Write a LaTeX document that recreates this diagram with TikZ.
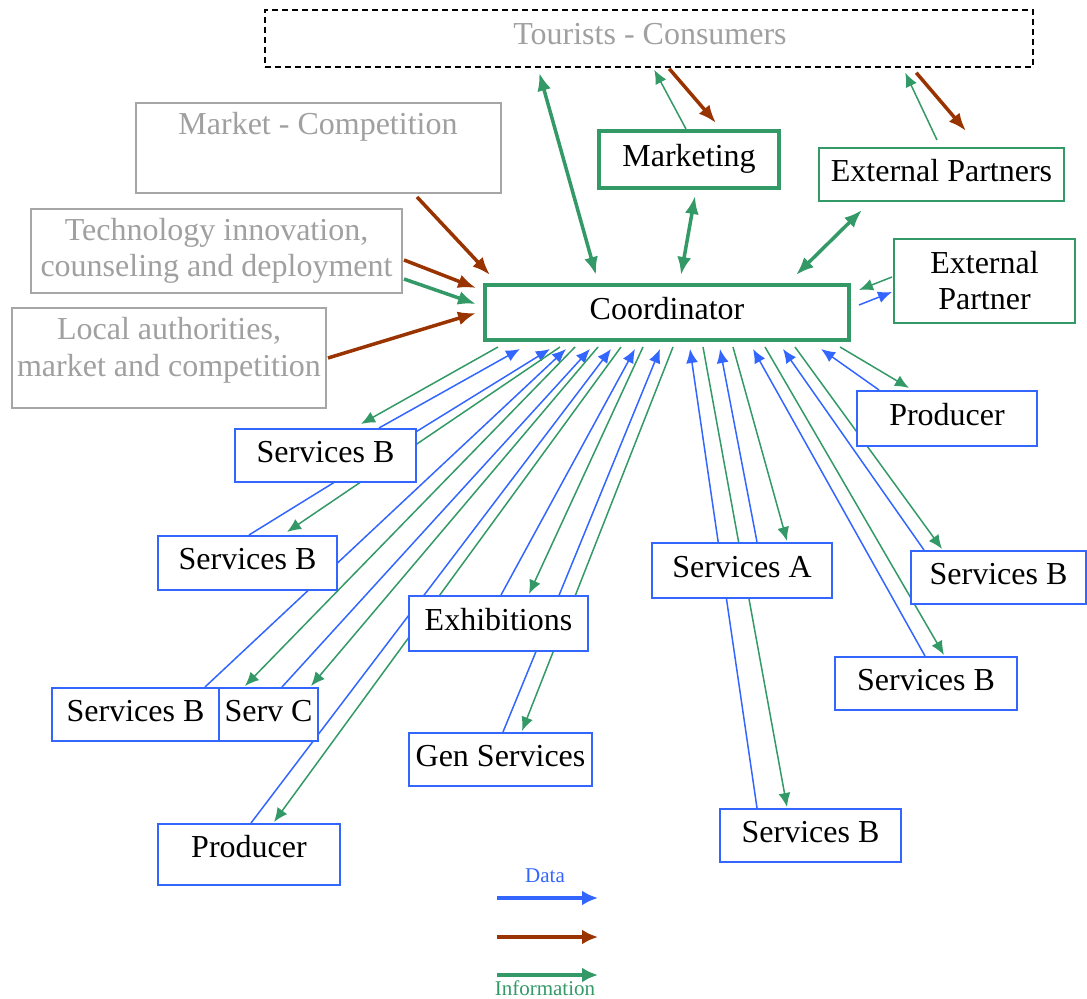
\documentclass[tikz,border=0pt]{standalone}
\usepackage{fontspec}
\setmainfont{Liberation Serif}
\usetikzlibrary{arrows.meta,calc}
\pgfdeclarelayer{bg}
\pgfsetlayers{bg,main}
\definecolor{cblue}{RGB}{51,102,255}
\definecolor{cgreen}{RGB}{51,153,102}
\definecolor{cbrown}{RGB}{153,51,0}
\definecolor{cgray}{RGB}{160,160,160}
\definecolor{cgrayline}{RGB}{166,166,166}
\begin{document}
\begin{tikzpicture}[x=0.5pt,y=-0.5pt,
  box/.style={draw, fill=white, inner sep=0pt, align=center, font=\fontsize{16}{18}\selectfont},
  bbox/.style={box, draw=cblue, line width=1pt, text depth=4pt},
  gbox/.style={box, draw=cgreen, line width=1pt},
  gthickbox/.style={box, draw=cgreen, line width=2pt, text depth=4pt},
  graybox/.style={box, draw=cgrayline, line width=1pt},
  graytext/.style={inner sep=0pt, text=cgray, align=center, font=\fontsize{16}{18.5}\selectfont},
  dataline/.style={draw=cblue, line width=0.75pt, -{Latex[length=7pt,width=6pt]}},
  infoline/.style={draw=cgreen, line width=0.75pt, -{Latex[length=7pt,width=6pt]}},
  infothick/.style={draw=cgreen, line width=1.75pt, {Latex[length=9pt,width=7pt]}-{Latex[length=9pt,width=7pt]}},
  infothickone/.style={draw=cgreen, line width=1.75pt, -{Latex[length=9pt,width=7pt]}},
  brownline/.style={draw=cbrown, line width=1.75pt, -{Latex[length=9pt,width=7pt]}},
  legendarrow/.style={line width=2pt, -{Latex[length=8pt,width=7.5pt]}}
]
\useasboundingbox (0,0) rectangle (1087,999);

% ---- top / outside boxes
\node[draw=black, dashed, dash pattern=on 3pt off 2pt, line width=0.75pt, minimum width=384pt, minimum height=28.5pt, inner sep=0pt] (tour) at (649,38.5) {};
\node[graytext, anchor=base] (tourt) at (650,45) {Tourists - Consumers};

\node[graybox, minimum width=182.5pt, minimum height=45pt] (mkt) at (318.5,148) {};
\node[graytext, anchor=base] (mktt) at (318,135) {Market - Competition};

\node[graybox, minimum width=185.5pt, minimum height=42pt, text=cgray] (tech) at (216.5,251) {Technology innovation,\\counseling and deployment};

\node[graybox, minimum width=157pt, minimum height=50pt] (loc) at (169,358) {};
\node[graytext] (loct) at (169,350) {Local authorities,\\market and competition};

% ---- green boxes
\node[gthickbox, minimum width=182pt, minimum height=27.5pt] (co) at (667,312.5) {Coordinator};
\node[gthickbox, minimum width=90pt, minimum height=28.5pt] (mk) at (689,159.5) {Marketing};
\node[gbox, minimum width=122.5pt, minimum height=26.5pt, text depth=4pt] (eps) at (941.5,174.5) {External Partners};
\node[gbox, minimum width=90.5pt, minimum height=42pt] (ep) at (984.5,281) {External\\Partner};

% ---- blue boxes
\node[bbox, minimum width=90pt, minimum height=27.5pt] (prR) at (947,418.5) {Producer};
\node[bbox, minimum width=87.5pt, minimum height=26.5pt] (sbR) at (998.5,577.5) {Services B};
\node[bbox, minimum width=90pt, minimum height=27.5pt] (sa) at (742,570.5) {Services A};
\node[bbox, minimum width=91pt, minimum height=26.5pt] (sbM) at (926,683.5) {Services B};
\node[bbox, minimum width=90.5pt, minimum height=26.5pt] (sbB) at (810.5,835.5) {Services B};
\node[bbox, minimum width=91.5pt, minimum height=26.5pt] (gen) at (500.5,759.5) {Gen Services};
\node[bbox, minimum width=89.5pt, minimum height=27.5pt] (exh) at (498.5,623.5) {Exhibitions};
\node[bbox, minimum width=91pt, minimum height=30.5pt] (prL) at (249,854.5) {};
\node[inner sep=0pt, anchor=base, font=\fontsize{16}{18}\selectfont] (prLt) at (249,857) {Producer};
\node[bbox, minimum width=83.5pt, minimum height=26.5pt] (sb3) at (135.5,714.5) {Services B};
\node[bbox, minimum width=49.5pt, minimum height=26.5pt] (sc) at (268.5,714.5) {Serv C};
\node[bbox, minimum width=89.5pt, minimum height=27pt] (sb2) at (247.5,563) {Services B};
\node[bbox, minimum width=90.5pt, minimum height=26.5pt] (sb1) at (325.5,455.5) {Services B};

% ---- legend
\node[inner sep=0pt, text=cblue, font=\fontsize{10.5}{12}\selectfont] (ldata) at (545,876) {Data};
\node[inner sep=0pt, text=cgreen, font=\fontsize{10.5}{12}\selectfont] (linfo) at (545,988) {Information};
\coordinate (lb1) at (497,898); \coordinate (lb2) at (598,898);
\coordinate (lr1) at (497,937); \coordinate (lr2) at (598,937);
\coordinate (lg1) at (497,975); \coordinate (lg2) at (598,975);

\begin{pgfonlayer}{bg}
% legend arrows
\draw[legendarrow, draw=cblue] (lb1) -- (lb2);
\draw[legendarrow, draw=cbrown] (lr1) -- (lr2);
\draw[legendarrow, draw=cgreen] (lg1) -- (lg2);

% top connectors
\draw[infothick] ($(tour.south west)+(275,5)$) -- ($(co.north west)+(113,-8)$);
\draw[infothick] ($(mk.south west)+(98,6)$) -- ($(co.north west)+(198,-8)$);
\draw[infothick] ($(eps.south west)+(44,8)$) -- ($(co.north west)+(313,-8)$);
\draw[brownline] ($(mkt.south east)+(-85,3)$) -- ($(co.north west)+(7,-8)$);
\draw[brownline] ($(tech.east)+(1,9)$) -- ($(co.north west)+(-7,5)$);
\draw[infothickone] ($(tech.east)+(1,28)$) -- ($(co.north west)+(-7,21)$);
\draw[brownline] ($(loc.east)+(1,0)$) -- ($(co.north west)+(-7,30)$);
\draw[infoline] ($(mk.north west)+(89,0)$) -- ($(tour.south west)+(390,2)$);
\draw[brownline] ($(tour.south west)+(405,1)$) -- ($(mk.north west)+(119,-6)$);
\draw[infoline] ($(eps.north west)+(119,-7)$) -- ($(tour.south west)+(641,5)$);
\draw[brownline] ($(tour.south west)+(652,5)$) -- ($(eps.north west)+(148,-16)$);
\draw[infoline] ($(ep.west)+(-1,-4)$) -- ($(co.north east)+(8,7)$);
\draw[dataline] ($(co.north east)+(8,22)$) -- ($(ep.west)+(-1,11)$);

% left fan
\draw[infoline] ($(co.south west)+(15,5)$) -- ($(sb1.north west)+(127,-4)$);
\draw[dataline] ($(sb1.north west)+(145,0)$) -- ($(co.south west)+(37,7)$);
\draw[dataline] ($(sb2.north west)+(92,0)$) -- ($(co.south west)+(67,7)$);
\draw[infoline] ($(co.south west)+(77,5)$) -- ($(sb2.north west)+(130,-3)$);
\draw[dataline] ($(sb3.north west)+(154,0)$) -- ($(co.south west)+(83,7)$);
\draw[infoline] ($(co.south west)+(92,5)$) -- ($(sc.north west)+(27,-1)$);
\draw[dataline] ($(sc.north west)+(64,0)$) -- ($(co.south west)+(107,7)$);
\draw[infoline] ($(co.south west)+(115,5)$) -- ($(sc.north west)+(93,-1)$);
\draw[dataline] ($(prL.north west)+(94,0)$) -- ($(co.south west)+(128,7)$);
\draw[infoline] ($(co.south west)+(138,5)$) -- ($(prL.north west)+(117,-1)$);
\draw[dataline] ($(exh.north west)+(93,0)$) -- ($(co.south west)+(152,7)$);
\draw[infoline] ($(co.south west)+(160,5)$) -- ($(exh.north west)+(121,-1)$);
\draw[dataline] ($(gen.north west)+(95,0)$) -- ($(co.south west)+(177,7)$);
\draw[infoline] ($(co.south west)+(190,5)$) -- ($(gen.north west)+(114,-1)$);

% right fan
\draw[dataline] ($(sbB.north west)+(38,0)$) -- ($(co.south west)+(207,7)$);
\draw[infoline] ($(co.south west)+(220,5)$) -- ($(sbB.north west)+(68,-1)$);
\draw[dataline] ($(sa.north west)+(106,0)$) -- ($(co.south west)+(237,7)$);
\draw[infoline] ($(co.south west)+(250,5)$) -- ($(sa.north west)+(136,-1)$);
\draw[dataline] ($(sbM.north west)+(91,0)$) -- ($(co.south west)+(270,7)$);
\draw[infoline] ($(co.south west)+(282,5)$) -- ($(sbM.north west)+(110,-1)$);
\draw[dataline] ($(sbR.north west)+(14,0)$) -- ($(co.south west)+(300,7)$);
\draw[infoline] ($(co.south west)+(312,5)$) -- ($(sbR.north west)+(32,-1)$);
\draw[dataline] ($(prR.north west)+(23,0)$) -- ($(co.south west)+(338,7)$);
\draw[infoline] ($(co.south west)+(357,5)$) -- ($(prR.north west)+(53,-2)$);
\end{pgfonlayer}
\end{tikzpicture}
\end{document}
